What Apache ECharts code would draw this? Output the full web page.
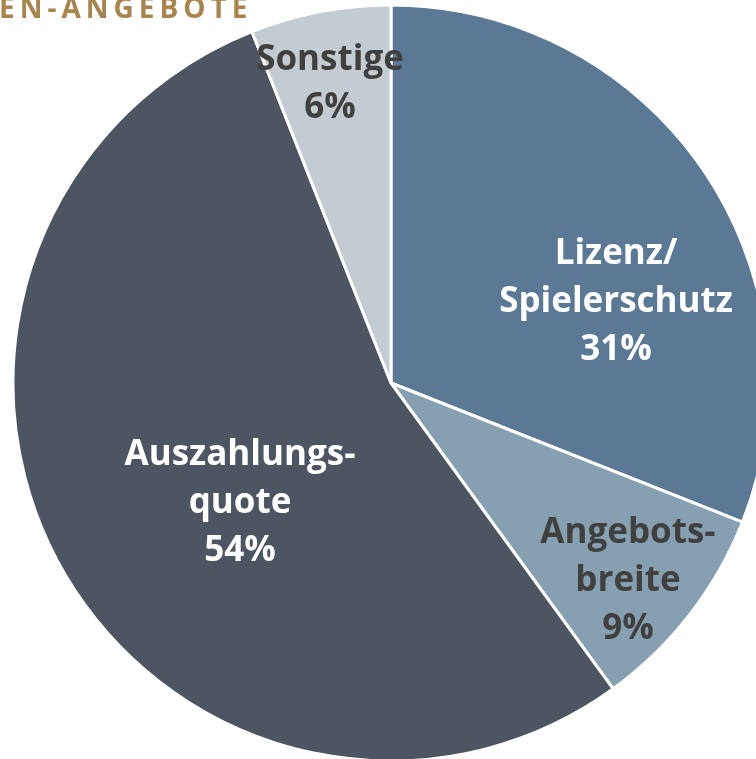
<!DOCTYPE html>
<html>
<head>
<meta charset="utf-8">
<script src="https://cdn.jsdelivr.net/npm/echarts@6/dist/echarts.min.js"></script>
<style>
  html, body { margin: 0; padding: 0; background: #fff; }
  #chart { width: 756px; height: 759px; }
</style>
</head>
<body>
<div id="chart"></div>
<script>
// anteile der kriterien (in %)
var categories = ['Lizenz/\nSpielerschutz', 'Angebots-\nbreite', 'Auszahlungs-\nquote', 'Sonstige'];
var values = [31, 9, 54, 6];
var sliceColors = ['#5b7895', '#87a0b1', '#4e5562', '#c3ccd2'];
var labelColors = ['#ffffff', '#404040', '#ffffff', '#404040'];
// label-mittelpunkte (wie im original platziert)
var labelPos = [[616, 302], [628, 581], [240, 503], [330, 84]];
var titleText = 'EN-ANGEBOTE';

// gesperrte schrift fuer den titel (zrender kennt kein letterSpacing)
(function () {
  var proto = CanvasRenderingContext2D.prototype;
  var orig = proto.fillText;
  proto.fillText = function (txt, x, y, w) {
    if (txt === titleText && 'letterSpacing' in this) {
      var old = this.letterSpacing;
      this.letterSpacing = '5px';
      orig.call(this, txt, x, y, w);
      this.letterSpacing = old;
      return;
    }
    return orig.apply(this, arguments);
  };
})();

var chart = echarts.init(document.getElementById('chart'));

var pieData = [];
for (var i = 0; i < values.length; i++) {
  pieData.push({
    name: categories[i],
    value: values[i],
    itemStyle: { color: sliceColors[i] },
    label: { color: labelColors[i] }
  });
}

chart.setOption({
  animation: false,
  graphic: [{
    type: 'text',
    x: -1,
    y: 10,
    z: 10,
    style: {
      text: titleText,
      fill: '#a8844f',
      font: 'bold 28px "Open Sans"',
      textAlign: 'left',
      textVerticalAlign: 'middle'
    }
  }],
  series: [{
    type: 'pie',
    center: [391, 383],
    radius: 378,
    startAngle: 90,
    clockwise: true,
    avoidLabelOverlap: false,
    itemStyle: { borderColor: '#ffffff', borderWidth: 3 },
    label: {
      show: true,
      position: 'inside',
      formatter: function (p) { return p.name + '\n' + p.value + '%'; },
      fontFamily: 'Open Sans',
      fontWeight: 'bold',
      fontSize: 35,
      lineHeight: 48,
      align: 'center',
      verticalAlign: 'middle'
    },
    labelLine: { show: false },
    labelLayout: function (params) {
      var p = labelPos[params.dataIndex];
      return { x: p[0], y: p[1], align: 'center', verticalAlign: 'middle' };
    },
    data: pieData
  }]
});
</script>
</body>
</html>
